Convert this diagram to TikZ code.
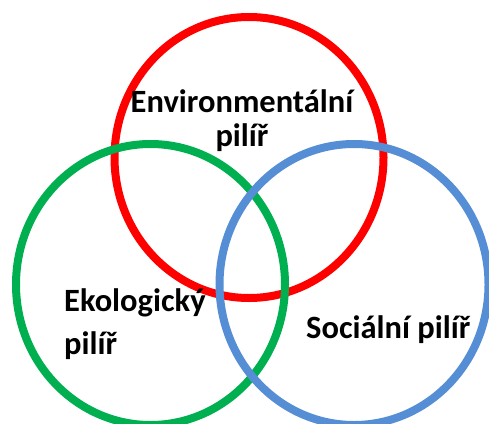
\documentclass[tikz,border=0pt]{standalone}
\usepackage{fontspec}
\setmainfont{Carlito}
\usetikzlibrary{shapes.geometric}
\definecolor{envred}{HTML}{FF0000}
\definecolor{ekogreen}{HTML}{00B050}
\definecolor{socblue}{HTML}{558ED5}
\tikzstyle{pillar} = [ellipse, line width=8pt, minimum width=269pt, minimum height=281pt, inner sep=0pt]
\tikzstyle{label} = [font=\bfseries\fontsize{32.5}{34}\selectfont, inner sep=0pt]
\begin{document}
\begin{tikzpicture}[x=1pt, y=-1pt]
        \useasboundingbox (0,0) rectangle (489,423);

        \node (env) [pillar, draw=envred] at (249,157.5) {};
        \node (eko) [pillar, draw=ekogreen] at (150.5,284.5) {};
        \node (soc) [pillar, draw=socblue] at (354,284.5) {};

        \node (envText) [label, align=center] at (242,121) {Environmentální\\pilíř};
        \node (ekoText) [label, align=left, anchor=west, font=\bfseries\fontsize{32.5}{43}\selectfont] at (64,324) {Ekologický\\pilíř};
        \node (socText) [label, anchor=base west] at (306,338) {Sociální pilíř};

    \end{tikzpicture}
\end{document}
